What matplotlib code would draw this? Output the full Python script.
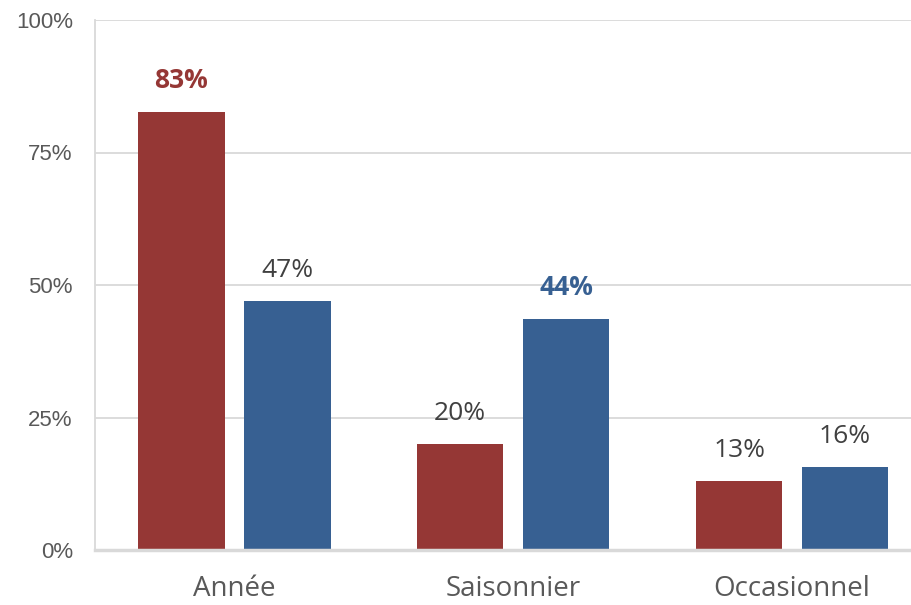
import matplotlib.pyplot as plt
import numpy as np

# data
categories = ['Année', 'Saisonnier', 'Occasionnel']
serie_rouge = [0.826, 0.20, 0.13]
serie_bleue = [0.47, 0.436, 0.157]
yticks = [0, 0.25, 0.5, 0.75, 1.0]
ytick_labels = ['0%', '25%', '50%', '75%', '100%']
# labels shown in bold colour: (series, category)
highlight = [(0, 0), (1, 1)]

rouge = '#953735'
bleu = '#376092'

fig = plt.figure(figsize=(9.11, 6.05), dpi=100)
ax = fig.add_axes([95 / 911, 1 - 550 / 605, (931.5 - 95) / 911, 530 / 605])

x = np.arange(len(categories))
w = 0.31
off = 0.19
b1 = ax.bar(x - off, serie_rouge, w, color=rouge, zorder=3)
b2 = ax.bar(x + off, serie_bleue, w, color=bleu, zorder=3)

for s, (bars, vals, col) in enumerate([(b1, serie_rouge, rouge), (b2, serie_bleue, bleu)]):
    for i, (b, v) in enumerate(zip(bars, vals)):
        bold = (s, i) in highlight
        ax.annotate(f'{round(v * 100):.0f}%',
                    (b.get_x() + b.get_width() / 2, v),
                    xytext=(0, 13), textcoords='offset points',
                    ha='center', va='bottom', fontsize=19,
                    family='Open Sans',
                    fontweight='bold' if bold else 'normal',
                    color=col if bold else '#404040')

ax.set_xlim(-0.5, 2.5)
ax.set_ylim(0, 1)
ax.set_yticks(yticks)
ax.set_yticklabels(ytick_labels, family='Liberation Sans', fontsize=16, color='#595959')
ax.set_xticks(x)
ax.set_xticklabels(categories, family='Open Sans', fontsize=20, color='#595959')
ax.tick_params(axis='y', length=0, pad=16)
ax.tick_params(axis='x', length=0, pad=18)

ax.grid(axis='y', color='#d9d9d9', linewidth=1.3, zorder=0)
for s in ['top', 'right']:
    ax.spines[s].set_visible(False)
ax.spines['left'].set_color('#d9d9d9')
ax.spines['left'].set_linewidth(1.3)
ax.spines['bottom'].set_color('#d9d9d9')
ax.spines['bottom'].set_linewidth(2.5)
ax.spines['bottom'].set_zorder(4)

fig.savefig('out.png', dpi=100)
